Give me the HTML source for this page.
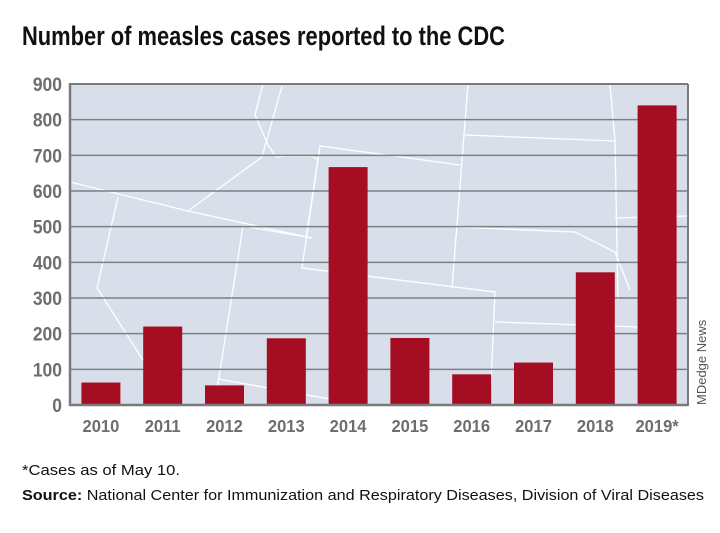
<!DOCTYPE html>
<html><head><meta charset="utf-8"><style>
body{margin:0;background:#fff;font-family:"Liberation Sans",sans-serif;}
svg text{font-family:"Liberation Sans",sans-serif;}
</style></head><body>
<svg width="720" height="528">
<text x="22" y="45" font-size="27" font-weight="bold" fill="#111" textLength="483" lengthAdjust="spacingAndGlyphs">Number of measles cases reported to the CDC</text>
<rect x="70" y="84" width="618" height="321" fill="#d8dfeb"/>
<g fill="none" stroke="#fff" stroke-width="1.3">
<polyline points="70,182 188,211 312,238"/>
<polyline points="188,211 262,157 282,86"/>
<polyline points="118,197 97,288 143,360"/>
<polyline points="312,238 243,226 215,402"/>
<polyline points="306,238 320,146 460,165"/>
<polyline points="320,146 302,268 495,292 490,405"/>
<polyline points="218,379 330,399"/>
<polyline points="468,84 452,288"/>
<polyline points="465,135 615,141 610,84"/>
<polyline points="615,141 618,300"/>
<polyline points="455,227 575,232 615,252 630,290"/>
<polyline points="495,322 640,327"/>
<polyline points="615,218 688,216"/>
<polyline points="263,84 255,115 268,145 276,157 286,156 312,156 318,160"/>
</g>
<g id="grid"></g>
<g id="bars"></g>
<line x1="70" y1="84" x2="688" y2="84" stroke="#7a7a7e" stroke-width="2"/>
<line x1="688" y1="84" x2="688" y2="406" stroke="#7a7a7e" stroke-width="2"/>
<line x1="70" y1="83" x2="70" y2="406" stroke="#7a7a7e" stroke-width="2.5"/>
<line x1="69" y1="405" x2="688" y2="405" stroke="#7a7a7e" stroke-width="2.5"/>
<g id="ylabels"></g>
<g id="xlabels"></g>
<text transform="translate(706,405) rotate(-90)" font-size="13" fill="#555">MDedge News</text>
<text x="22" y="475" font-size="15" fill="#111" textLength="158" lengthAdjust="spacingAndGlyphs">*Cases as of May 10.</text>
<text x="22" y="500" font-size="15" fill="#111" textLength="682" lengthAdjust="spacingAndGlyphs"><tspan font-weight="bold">Source:</tspan> National Center for Immunization and Respiratory Diseases, Division of Viral Diseases</text>
</svg>
<script>
const categories=["2010","2011","2012","2013","2014","2015","2016","2017","2018","2019*"];
const values=[63,220,55,187,667,188,86,119,372,840];
const yTicks=[0,100,200,300,400,500,600,700,800,900];
const NS="http://www.w3.org/2000/svg";
const x0=70,band=61.8,bw=39,yBottom=405,yTop=84,yMax=900;
function y(v){return yBottom-(v/yMax)*(yBottom-yTop);}
function xc(i){return x0+band*(i+0.5);}
const grid=document.getElementById('grid'),bars=document.getElementById('bars'),yl=document.getElementById('ylabels'),xl=document.getElementById('xlabels');
yTicks.forEach(t=>{
 if(t>0&&t<yMax){const l=document.createElementNS(NS,'line');
 l.setAttribute('x1',x0);l.setAttribute('x2',688);l.setAttribute('y1',y(t));l.setAttribute('y2',y(t));
 l.setAttribute('stroke','#7d7f85');l.setAttribute('stroke-width','1.5');
 
 
 grid.appendChild(l);}
 const tx=document.createElementNS(NS,'text');
 tx.setAttribute('x',62);tx.setAttribute('y',y(t)+7);tx.setAttribute('text-anchor','end');
 tx.setAttribute('font-size','19');tx.setAttribute('font-weight','bold');tx.setAttribute('fill','#6d6e72');
 tx.setAttribute('transform','translate(62,0) scale(0.92,1) translate(-62,0)');
 tx.textContent=t;
 
 
 yl.appendChild(tx);
});
categories.forEach((c,i)=>{
 const r=document.createElementNS(NS,'rect');
 r.setAttribute('x',xc(i)-bw/2);r.setAttribute('width',bw);
 r.setAttribute('y',y(values[i]));r.setAttribute('height',yBottom-y(values[i]));
 r.setAttribute('fill','#a50d22');
 
 
 bars.appendChild(r);
 const tx=document.createElementNS(NS,'text');
 tx.setAttribute('x',xc(i));tx.setAttribute('y',432);tx.setAttribute('text-anchor','middle');
 tx.setAttribute('font-size','18');tx.setAttribute('font-weight','bold');tx.setAttribute('fill','#6d6e72');
 tx.setAttribute('transform','translate('+xc(i)+',0) scale(0.92,1) translate('+(-xc(i))+',0)');
 tx.textContent=c;
 
 
 xl.appendChild(tx);
});
</script>
</body></html>
